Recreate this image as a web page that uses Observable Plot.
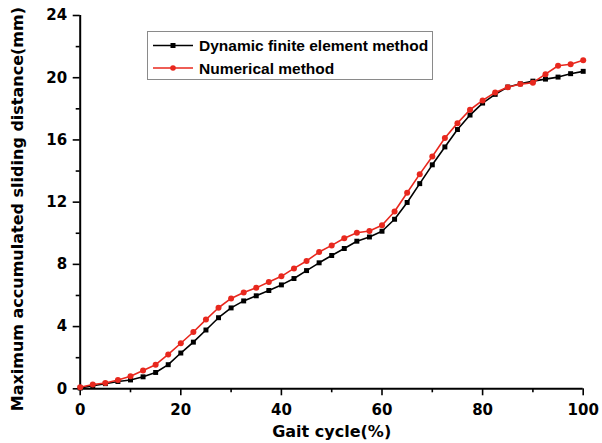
<!DOCTYPE html>
<html>
<head>
<meta charset="utf-8">
<script src="https://cdn.jsdelivr.net/npm/d3@7"></script>
<script src="https://cdn.jsdelivr.net/npm/@observablehq/plot@0.6"></script>
<style>
  body { margin: 0; background: #fff; }
  #wrap { position: relative; width: 602px; height: 443px; }
  #legend { position: absolute; left: 147px; top: 31px; }
</style>
</head>
<body>
<div id="wrap"></div>
<script>
// Gait cycle (%)
const gait = [0, 2.5, 5, 7.5, 10, 12.5, 15, 17.5, 20, 22.5, 25, 27.5, 30, 32.5, 35, 37.5, 40,
  42.5, 45, 47.5, 50, 52.5, 55, 57.5, 60, 62.5, 65, 67.5, 70, 72.5, 75, 77.5, 80, 82.5, 85,
  87.5, 90, 92.5, 95, 97.5, 100];
// Dynamic finite element method
const femValues = [0.05, 0.2, 0.33, 0.47, 0.57, 0.77, 1.05, 1.55, 2.3, 3.0, 3.78, 4.57, 5.2,
  5.65, 5.98, 6.32, 6.68, 7.09, 7.6, 8.1, 8.57, 9.02, 9.49, 9.76, 10.13, 10.9, 11.98, 13.19,
  14.4, 15.55, 16.67, 17.6, 18.37, 18.93, 19.4, 19.61, 19.78, 19.91, 20.04, 20.26, 20.41];
// Numerical method
const numValues = [0.1, 0.28, 0.37, 0.56, 0.81, 1.17, 1.55, 2.21, 2.93, 3.65, 4.45, 5.21, 5.81,
  6.19, 6.49, 6.86, 7.23, 7.74, 8.22, 8.79, 9.22, 9.68, 10.03, 10.15, 10.51, 11.4, 12.6, 13.8,
  14.94, 16.12, 17.08, 17.94, 18.54, 19.05, 19.38, 19.59, 19.68, 20.23, 20.77, 20.87, 21.13];

const seriesNames = ["Dynamic finite element method", "Numerical method"];
const xMajor = [0, 20, 40, 60, 80, 100];
const xMinor = [10, 30, 50, 70, 90];
const yMajor = [0, 4, 8, 12, 16, 20, 24];
const yMinor = [2, 6, 10, 14, 18, 22];
const xTitle = "Gait cycle(%)";
const yTitle = "Maximum accumulated sliding distance(mm)";

const fem = gait.map((g, i) => ({x: g, y: femValues[i]}));
const num = gait.map((g, i) => ({x: g, y: numValues[i]}));

const BLACK = "#000";
const RED = "#e8281e";
const tickFont = "DejaVu Sans, sans-serif";

const chart = Plot.plot({
  width: 602,
  height: 443,
  marginLeft: 79.7,
  marginRight: 19.3,
  marginTop: 15,
  marginBottom: 54.7,
  style: {fontFamily: tickFont, fontSize: "15px", fontWeight: "bold", color: "#000", background: "#fff"},
  x: {domain: [0, 100]},
  y: {domain: [0, 24]},
  marks: [
    Plot.axisX(xMajor, {tickSize: 7, tickPadding: 9, strokeWidth: 1.6, fontWeight: "bold", fontSize: 15, label: null}),
    Plot.axisX(xMinor, {tickSize: 4, strokeWidth: 1.6, text: null, label: null}),
    Plot.axisY(yMajor, {tickSize: 7, tickPadding: 6, strokeWidth: 1.6, fontWeight: "bold", fontSize: 15, label: null}),
    Plot.axisY(yMinor, {tickSize: 4, strokeWidth: 1.6, text: null, label: null}),
    Plot.ruleX([0], {stroke: BLACK, strokeWidth: 2}),
    Plot.ruleY([0], {stroke: BLACK, strokeWidth: 2}),
    Plot.line(fem, {x: "x", y: "y", stroke: BLACK, strokeWidth: 1.6}),
    Plot.dot(fem, {x: "x", y: "y", symbol: "square", r: 2.8, fill: BLACK, stroke: "none"}),
    Plot.line(num, {x: "x", y: "y", stroke: RED, strokeWidth: 1.6}),
    Plot.dot(num, {x: "x", y: "y", symbol: "circle", r: 3, fill: RED, stroke: "none"}),
    Plot.text([xTitle], {frameAnchor: "bottom", dy: 43, fontSize: 16, fontWeight: "bold", fontFamily: tickFont, lineAnchor: "middle", textAnchor: "middle"}),
    Plot.text([yTitle], {frameAnchor: "left", rotate: -90, dx: -62, dy: 7, fontSize: 16, fontWeight: "bold", fontFamily: tickFont, lineAnchor: "middle", textAnchor: "middle"})
  ]
});
document.getElementById("wrap").appendChild(chart);

// Legend
const lg = d3.select("#wrap").append("svg")
  .attr("id", "legend").attr("width", 287).attr("height", 50);
lg.append("rect").attr("x", 0.5).attr("y", 0.5).attr("width", 285).attr("height", 48)
  .attr("fill", "#fff").attr("stroke", "#8a8a8a").attr("stroke-width", 1);
const colors = [BLACK, RED];
seriesNames.forEach((name, i) => {
  const cy = 14.5 + i * 22.5;
  lg.append("line").attr("x1", 6).attr("x2", 46).attr("y1", cy).attr("y2", cy)
    .attr("stroke", colors[i]).attr("stroke-width", 1.6);
  if (i === 0) {
    lg.append("rect").attr("x", 23.5).attr("y", cy - 2.5).attr("width", 5).attr("height", 5).attr("fill", BLACK);
  } else {
    lg.append("circle").attr("cx", 26).attr("cy", cy).attr("r", 2.8).attr("fill", RED);
  }
  lg.append("text").attr("x", 52).attr("y", cy + 5.5)
    .attr("font-family", "Liberation Sans, Arial, sans-serif").attr("font-weight", "bold")
    .attr("font-size", 15.5).attr("fill", "#000").text(name);
});
</script>
</body>
</html>
